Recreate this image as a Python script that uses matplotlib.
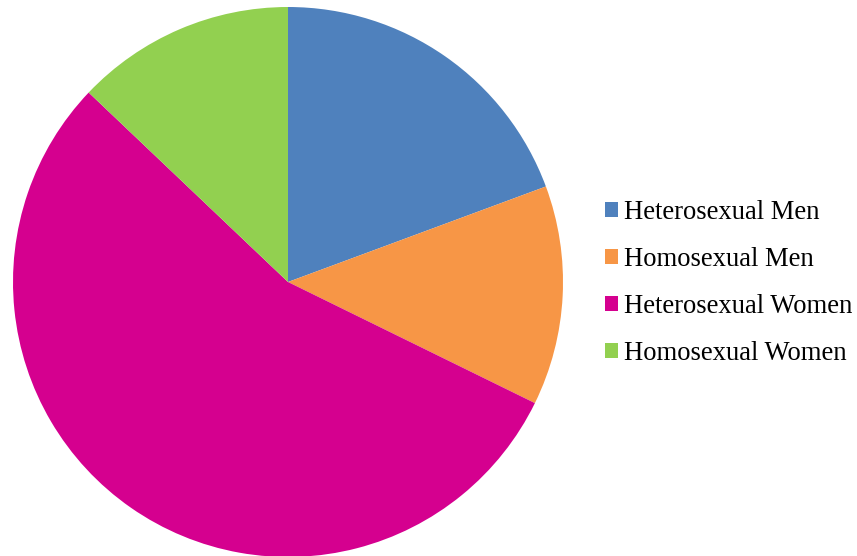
import matplotlib.pyplot as plt
from matplotlib.patches import Patch

labels = ['Heterosexual Men', 'Homosexual Men', 'Heterosexual Women', 'Homosexual Women']
counts = [30, 20, 85, 20]
colors = ['#4F81BD', '#F79646', '#D5008F', '#92D050']

plt.rcParams['font.family'] = ['Liberation Serif', 'DejaVu Serif']

fig = plt.figure(figsize=(8.57, 5.56), dpi=100)
ax = fig.add_axes([13 / 857, -1 / 556, 550 / 857, 550 / 556])
ax.pie(counts, colors=colors, startangle=90, counterclock=False, radius=1,
       wedgeprops=dict(linewidth=0))
ax.set_xlim(-1, 1)
ax.set_ylim(-1, 1)
ax.set_aspect('equal')
ax.axis('off')

handles = [Patch(facecolor=c, edgecolor='none') for c in colors]
fig.legend(handles, labels, loc='center left', bbox_to_anchor=(605 / 857, 1 - 283 / 556),
           frameon=False, fontsize=19.2, handlelength=0.5, handleheight=0.5,
           handletextpad=0.2, labelspacing=0.83, borderpad=0, borderaxespad=0)

fig.savefig('out.png', dpi=100)
